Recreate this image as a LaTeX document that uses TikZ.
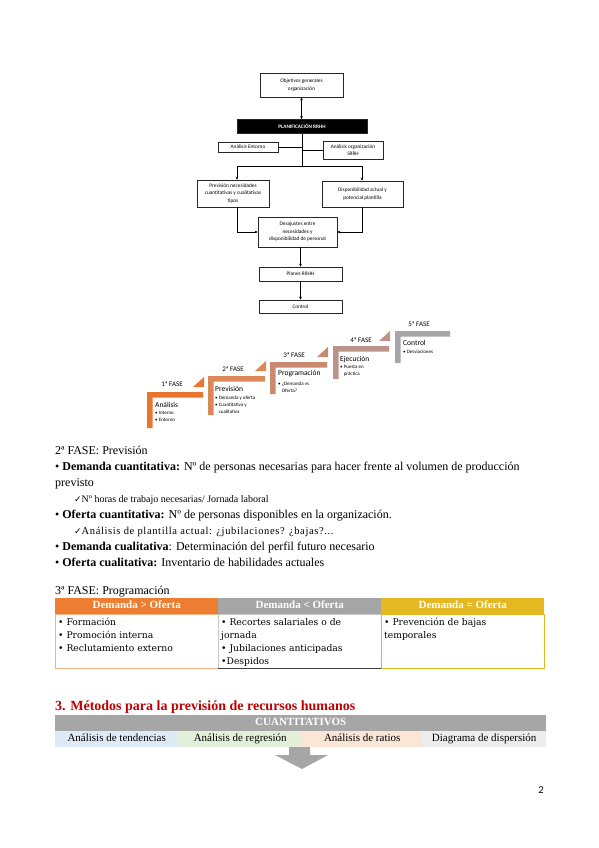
\documentclass[tikz,border=0pt]{standalone}
\usepackage{fontspec}
\setmainfont{Liberation Serif}
\newfontfamily\calib{Carlito}
\newfontfamily\djs{DejaVu Sans}
\newfontfamily\djserif{DejaVu Serif}
\newfontfamily\spaced[LetterSpace=6]{Liberation Serif}
\usetikzlibrary{arrows.meta}

\definecolor{s1}{RGB}{232,118,48}
\definecolor{s2}{RGB}{220,136,88}
\definecolor{s3}{RGB}{203,138,112}
\definecolor{s4}{RGB}{186,148,138}
\definecolor{s5}{RGB}{166,166,166}
\definecolor{hor}{RGB}{237,125,49}
\definecolor{hgr}{RGB}{165,165,165}
\definecolor{hgo}{RGB}{228,184,32}
\definecolor{bor}{RGB}{244,177,131}
\definecolor{bgr}{RGB}{200,200,200}
\definecolor{dred}{RGB}{192,0,0}
\definecolor{cgray}{RGB}{166,166,166}
\definecolor{cblue}{RGB}{222,235,247}
\definecolor{cgreen}{RGB}{226,240,217}
\definecolor{cpink}{RGB}{251,229,214}
\definecolor{clgray}{RGB}{237,237,237}

\tikzset{
  fc/.style={draw=black!85, line width=0.5pt, fill=white, align=center,
    font=\calib\fontsize{5.3}{7.4}\selectfont, inner sep=0pt},
  arr/.style={-{Stealth[length=3.2pt,width=2.8pt]}, line width=0.5pt},
  darr/.style={{Stealth[length=3.2pt,width=2.8pt]}-{Stealth[length=3.2pt,width=2.8pt]}, line width=0.5pt},
  ln/.style={line width=0.5pt},
  txt/.style={anchor=base west, inner sep=0pt, font=\fontsize{12}{13}\selectfont},
  subtxt/.style={anchor=base west, inner sep=0pt, font=\fontsize{10}{12}\selectfont},
  fase/.style={font=\calib\fontsize{7}{8}\selectfont, inner sep=0pt, anchor=base},
  stitle/.style={anchor=base west, font=\calib\fontsize{7.5}{8}\selectfont, inner sep=0pt},
  sbul/.style={anchor=north west, align=left, font=\calib\fontsize{5}{7}\selectfont, inner sep=0pt},
  thead/.style={anchor=north west, minimum width=163pt, minimum height=16pt, inner sep=0pt,
    text height=8pt, text depth=2.5pt,
    text=white, font=\bfseries\fontsize{11}{13}\selectfont},
  tbox/.style={anchor=north west, minimum width=163pt, minimum height=54pt, inner sep=0pt},
  tl/.style={anchor=base west, inner sep=0pt, font=\djserif\fontsize{9.2}{13}\selectfont},
  mcell/.style={anchor=north west, minimum height=16pt, inner sep=0pt,
    text height=8pt, text depth=2.5pt, font=\fontsize{11}{13}\selectfont},
}

\begin{document}
\begin{tikzpicture}[x=1pt,y=-1pt]
\useasboundingbox (0,0) rectangle (599,848);
\fill[white] (0,0) rectangle (599,848);

% ---------------- Flowchart ----------------
\node[fc, minimum width=83pt, minimum height=24pt] (obj) at (301.5,85) {Objetivos generales\\organización};
\node[fc, fill=black, text=white, minimum width=130pt, minimum height=14pt,
  font=\calib\bfseries\fontsize{5.2}{6}\selectfont] (plan) at (302,126.5) {PLANIFICACIÓN RRHH};
\node[fc, minimum width=60pt, minimum height=10pt] (ent) at (248,147) {Análisis Entorno};
\node[fc, minimum width=60pt, minimum height=18pt] (org) at (353,150) {Análisis organización\\SRRH};
\node[fc, minimum width=72pt, minimum height=27pt] (prev) at (233,193.5) {Previsión necesidades\\cuantitativas y cualitativas\\tipos};
\node[fc, minimum width=81pt, minimum height=26pt] (disp) at (362.5,194) {Disponibilidad actual y\\potencial plantilla};
\node[fc, minimum width=79pt, minimum height=30pt] (des) at (297.5,232) {Desajustes entre\\necesidades y\\disponibilidad de personal};
\node[fc, minimum width=83pt, minimum height=14pt] (planes) at (300.5,274) {Planes RRHH};
\node[fc, minimum width=83pt, minimum height=13pt] (ctrl) at (300.5,306.5) {Control};

\coordinate (br) at (302,166);
\coordinate (bl) at (237,166);
\coordinate (brr) at (362,166);

\draw[darr] (obj.south) -- (obj.south |- plan.north);
\draw[ln] (plan.south) -- (br);
\draw[ln] (bl) -- (brr);
\draw[ln] (ent.east) -- (ent.east -| br);
\draw[ln] (org.west) -- (org.west -| br);
\draw[arr] (bl) -- (bl |- prev.north);
\draw[arr] (brr) -- (brr |- disp.north);
\draw[arr] (prev.south -| bl) |- (des.west);
\draw[arr] (disp.south -| brr) |- (des.east);
\draw[arr] (des.south -| planes.north) -- (planes.north);
\draw[arr] (planes.south) -- (ctrl.north);

% ---------------- Staircase ----------------
\foreach \L/\T/\R/\B/\c in {147/392/203/428/s1, 208/376/265/415/s2, 270/362/327/394/s3,
    333/346/389/379/s4, 395/331/450/363/s5}{
  \fill[\c] (\L,\T) -- (\R,\T) -- (\R,\T+5.5) -- (\L+5.5,\T+5.5) -- (\L+5.5,\B) -- (\L,\B) -- cycle;
}
\foreach \R/\T/\c in {203/392/s1, 265/376/s2, 327/362/s3, 389/346/s4}{
  \fill[\c] (\R-10,\T-5) -- (\R+1,\T-5) -- (\R+1,\T-15) -- cycle;
}
\node[fase] (f1) at (172,386) {1ª FASE};
\node[fase] (f2) at (233,371) {2ª FASE};
\node[fase] (f3) at (294,357) {3ª FASE};
\node[fase] (f4) at (361,342) {4ª FASE};
\node[fase] (f5) at (419,326) {5ª FASE};

\node[stitle] (t1) at (155,407) {Análisis};
\node[stitle] (t2) at (215,391) {Previsión};
\node[stitle] (t3) at (278,375) {Programación};
\node[stitle] (t4) at (340,361) {Ejecución};
\node[stitle] (t5) at (403,345) {Control};

\node[sbul] (b1) at (155,411) {• Interno\\• Entorno};
\node[sbul] (b2) at (215,396) {• Demanda y oferta\\• Cuantitativa y\\\hphantom{• }cualitativa};
\node[sbul] (b3) at (278,382) {• ¿Demanda vs\\\hphantom{• }Oferta?};
\node[sbul] (b4) at (340,365) {• Puesta en\\\hphantom{• }práctica};
\node[sbul] (b5) at (403,350) {• Desviaciones};

% ---------------- Text block ----------------
\node[txt] (l1) at (55,454) {2ª FASE: Previsión};
\node[txt] (l2) at (55,470) {• \textbf{Demanda cuantitativa:} Nº de personas necesarias para hacer frente al volumen de producción};
\node[txt] (l3) at (55,486) {previsto};
\node[subtxt] (l4) at (74,502) {{\djs\fontsize{9}{10}\selectfont ✓}Nº horas de trabajo necesarias/ Jornada laboral};
\node[txt] (l5) at (55,518) {• \textbf{Oferta cuantitativa:} Nº de personas disponibles en la organización.};
\node[subtxt, font=\spaced\fontsize{10.5}{12}\selectfont] (l6) at (74,534) {{\djs\fontsize{9}{10}\selectfont ✓}Análisis de plantilla actual: ¿jubilaciones? ¿bajas?...};
\node[txt] (l7) at (55,550) {• \textbf{Demanda cualitativa}: Determinación del perfil futuro necesario};
\node[txt] (l8) at (55,566) {• \textbf{Oferta cualitativa:} Inventario de habilidades actuales};

\node[txt] (l9) at (55,594) {3ª FASE: Programación};

% ---------------- Table ----------------
\node[thead, fill=hor] (h1) at (55,598) {Demanda > Oferta};
\node[thead, fill=hgr] (h2) at (218,598) {Demanda < Oferta};
\node[thead, fill=hgo] (h3) at (381,598) {Demanda = Oferta};
\node[tbox, draw=bor] (c1) at (55,614) {};
\node[tbox, draw=bgr] (c2) at (218,614) {};
\node[tbox, draw=hgo] (c3) at (381,614) {};
\draw[line width=0.8pt, black!75] (c2.south west) -- (c2.south east);

\node[tl] (c1a) at (58,625) {• Formación};
\node[tl] (c1b) at (58,638) {• Promoción interna};
\node[tl] (c1c) at (58,651) {• Reclutamiento externo};
\node[tl] (c2a) at (221,625) {• Recortes salariales o de};
\node[tl] (c2b) at (221,638) {jornada};
\node[tl] (c2c) at (221,651) {• Jubilaciones anticipadas};
\node[tl] (c2d) at (221,664) {•Despidos};
\node[tl] (c3a) at (384,625) {• Prevención de bajas};
\node[tl] (c3b) at (384,638) {temporales};

% ---------------- Section 3 ----------------
\node[anchor=base west, inner sep=0pt, text=dred, font=\bfseries\fontsize{14}{16}\selectfont] (sec) at (55,710)
  {3. Métodos para la previsión de recursos humanos};
\node[anchor=north west, fill=cgray, minimum width=491pt, minimum height=16pt, inner sep=0pt,
  text height=8pt, text depth=2.5pt,
  text=white, font=\bfseries\fontsize{11}{13}\selectfont] (cuant) at (55,715) {CUANTITATIVOS};
\node[mcell, fill=cblue, minimum width=123pt] (m1) at (55,731) {Análisis de tendencias};
\node[mcell, fill=cgreen, minimum width=124pt] (m2) at (178,731) {Análisis de regresión};
\node[mcell, fill=cpink, minimum width=120pt] (m3) at (302,731) {Análisis de ratios};
\node[mcell, fill=clgray, minimum width=124pt] (m4) at (422,731) {Diagrama de dispersión};

\fill[cgray] (289,747) -- (310,747) -- (310,755) -- (328,755) -- (302,769) -- (275,755) -- (289,755) -- cycle;

\node[anchor=base, inner sep=0pt, font=\calib\fontsize{10.5}{12}\selectfont] (pg) at (541,793) {2};
\end{tikzpicture}
\end{document}
